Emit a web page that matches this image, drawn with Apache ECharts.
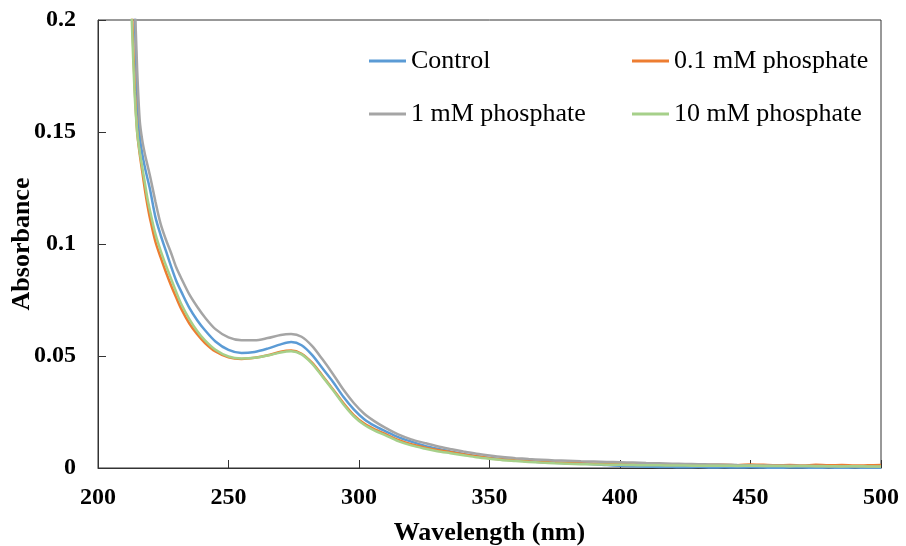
<!DOCTYPE html>
<html>
<head>
<meta charset="utf-8">
<script src="https://cdn.jsdelivr.net/npm/echarts@6/dist/echarts.min.js"></script>
<style>
html,body{margin:0;padding:0;background:#fff;}
#chart{width:906px;height:546px;}
</style>
</head>
<body>
<div id="chart"></div>
<script>
// Wavelength (nm)
const wavelengths = [211,212,213,214,215,216,217,218,219,220,222,224,226,228,230,232,235,238,241,245,
  250,255,260,265,270,274,278,282,286,290,294,298,302,306,310,
  315,320,325,330,335,340,345,350,355,360,365,370,375,380,385,390,395,400,
  405,410,415,420,425,430,435,440,445,450,455,460,465,470,475,480,485,490,495,500];

const seriesNames = ['Control','0.1 mM phosphate','1 mM phosphate','10 mM phosphate'];
const yAxisTitle = 'Absorbance';
const xAxisTitle = 'Wavelength (nm)';

const control = [0.30,0.26,0.23,0.205,0.168,0.148,0.140,0.134,0.129,0.124,0.112,0.104,0.097,0.090,0.0835,0.0785,0.0715,0.0660,0.0615,0.0565,
  0.0527,0.0513,0.0518,0.0533,0.0552,0.0562,0.0548,0.0505,0.0445,0.0385,0.0318,0.0262,0.0218,0.0188,0.0165,
  0.0138,0.0118,0.0100,0.0086,0.0074,0.0063,0.0053,0.0045,0.0039,0.0034,0.0030,0.0026,0.0023,0.0021,0.0019,0.0017,0.0013,0.0010,
  0.0008,0.0006,0.0005,0.0004,0.0003,0.0004,0.0002,0.0003,0.0002,0.0003,0.0002,0.0001,0.0002,0.0002,0.0001,0.0002,0.0001,0.0002,0.0001,0.0001];

const p01 = [0.29,0.245,0.205,0.172,0.150,0.140,0.132,0.124,0.117,0.111,0.101,0.094,0.0875,0.0815,0.0760,0.0708,0.0645,0.0597,0.0558,0.0520,
  0.0494,0.0487,0.0492,0.0503,0.0519,0.0524,0.0510,0.0470,0.0412,0.0352,0.0290,0.0236,0.0198,0.0172,0.0152,
  0.0125,0.0106,0.0092,0.0080,0.0071,0.0061,0.0052,0.0044,0.0038,0.0034,0.0030,0.0027,0.0024,0.0022,0.0021,0.0019,0.0018,0.0017,
  0.0016,0.0015,0.0016,0.0014,0.0015,0.0013,0.0014,0.0015,0.0012,0.0016,0.0014,0.0012,0.0013,0.0011,0.0014,0.0012,0.0013,0.0011,0.0012,0.0013];

const p1 = [0.31,0.27,0.24,0.212,0.178,0.155,0.146,0.140,0.135,0.130,0.119,0.109,0.102,0.096,0.0895,0.0845,0.0775,0.0720,0.0672,0.0620,
  0.0583,0.0570,0.0570,0.0580,0.0594,0.0598,0.0586,0.0545,0.0485,0.0420,0.0350,0.0290,0.0242,0.0208,0.0180,
  0.0150,0.0128,0.0112,0.0097,0.0085,0.0074,0.0064,0.0056,0.0049,0.0044,0.0040,0.0037,0.0034,0.0032,0.0030,0.0029,0.0027,0.0026,
  0.0024,0.0022,0.0021,0.0019,0.0018,0.0017,0.0016,0.0015,0.0013,0.0012,0.0011,0.0010,0.0010,0.0009,0.0009,0.0008,0.0008,0.0007,0.0007,0.0006];

const p10 = [0.28,0.235,0.198,0.168,0.150,0.141,0.134,0.127,0.120,0.1145,0.1045,0.0970,0.0905,0.0845,0.0785,0.0730,0.0665,0.0612,0.0570,0.0528,
  0.0498,0.0489,0.0492,0.0502,0.0516,0.0521,0.0507,0.0466,0.0408,0.0348,0.0285,0.0231,0.0193,0.0167,0.0147,
  0.0120,0.0101,0.0087,0.0075,0.0066,0.0057,0.0048,0.0041,0.0035,0.0031,0.0027,0.0024,0.0021,0.0019,0.0017,0.0016,0.0015,0.0014,
  0.0013,0.0012,0.0012,0.0011,0.0011,0.0010,0.0010,0.0010,0.0009,0.0010,0.0009,0.0009,0.0008,0.0009,0.0008,0.0008,0.0007,0.0008,0.0007,0.0007];

const xTicks = [200,250,300,350,400,450,500];
const yTicks = [0,0.05,0.1,0.15,0.2];

const colors = ['#5B9BD5','#ED7D31','#A5A5A5','#A6D08A'];
const values = [control,p01,p1,p10];

const chart = echarts.init(document.getElementById('chart'), null, {renderer:'canvas'});
const font = '"Liberation Serif","Times New Roman",serif';

const legendPos = [
  {left:369, top:46},
  {left:632, top:46},
  {left:369, top:99},
  {left:632, top:99}
];

const option = {
  animation:false,
  backgroundColor:'#fff',
  color:colors,
  grid:{left:98, right:25, top:20, bottom:78, show:true, borderColor:'#333', borderWidth:1,
        containLabel:false, outerBoundsMode:'none'},
  legend: seriesNames.map((n,i)=>({
    data:[n], left:legendPos[i].left, top:legendPos[i].top, padding:0,
    icon:'rect', itemWidth:37, itemHeight:3,
    textStyle:{fontFamily:font, fontSize:26, color:'#000', lineHeight:30}
  })),
  graphic:[{
    type:'text', x:22, y:244, rotation:Math.PI/2, silent:true,
    style:{text:yAxisTitle, fontFamily:font, fontSize:26, fontWeight:'bold', fill:'#000',
           align:'center', verticalAlign:'middle'}
  }],
  xAxis:{
    type:'value', min:xTicks[0], max:xTicks[xTicks.length-1], interval:50,
    name:xAxisTitle, nameLocation:'middle', nameGap:52,
    nameTextStyle:{fontFamily:font, fontSize:26, fontWeight:'bold', color:'#000'},
    axisLine:{lineStyle:{color:'#333', width:1}},
    axisTick:{inside:true, length:8, lineStyle:{color:'#333'}},
    axisLabel:{fontFamily:font, fontSize:24, fontWeight:'bold', color:'#000', margin:18},
    splitLine:{show:false}
  },
  yAxis:{
    type:'value', min:yTicks[0], max:yTicks[yTicks.length-1], interval:0.05,
    axisLine:{show:true, lineStyle:{color:'#333', width:1}},
    axisTick:{show:true, inside:true, length:8, lineStyle:{color:'#333'}},
    axisLabel:{fontFamily:font, fontSize:24, fontWeight:'bold', color:'#000', margin:22},
    splitLine:{show:false}
  },
  series: seriesNames.map((n,i)=>({
    name:n, type:'line', showSymbol:false, symbol:'none', smooth:0.3, clip:true,
    lineStyle:{width:2.5, color:colors[i]},
    itemStyle:{color:colors[i]},
    data: wavelengths.map((w,k)=>[w, values[i][k]])
  }))
};
chart.setOption(option);
</script>
</body>
</html>
